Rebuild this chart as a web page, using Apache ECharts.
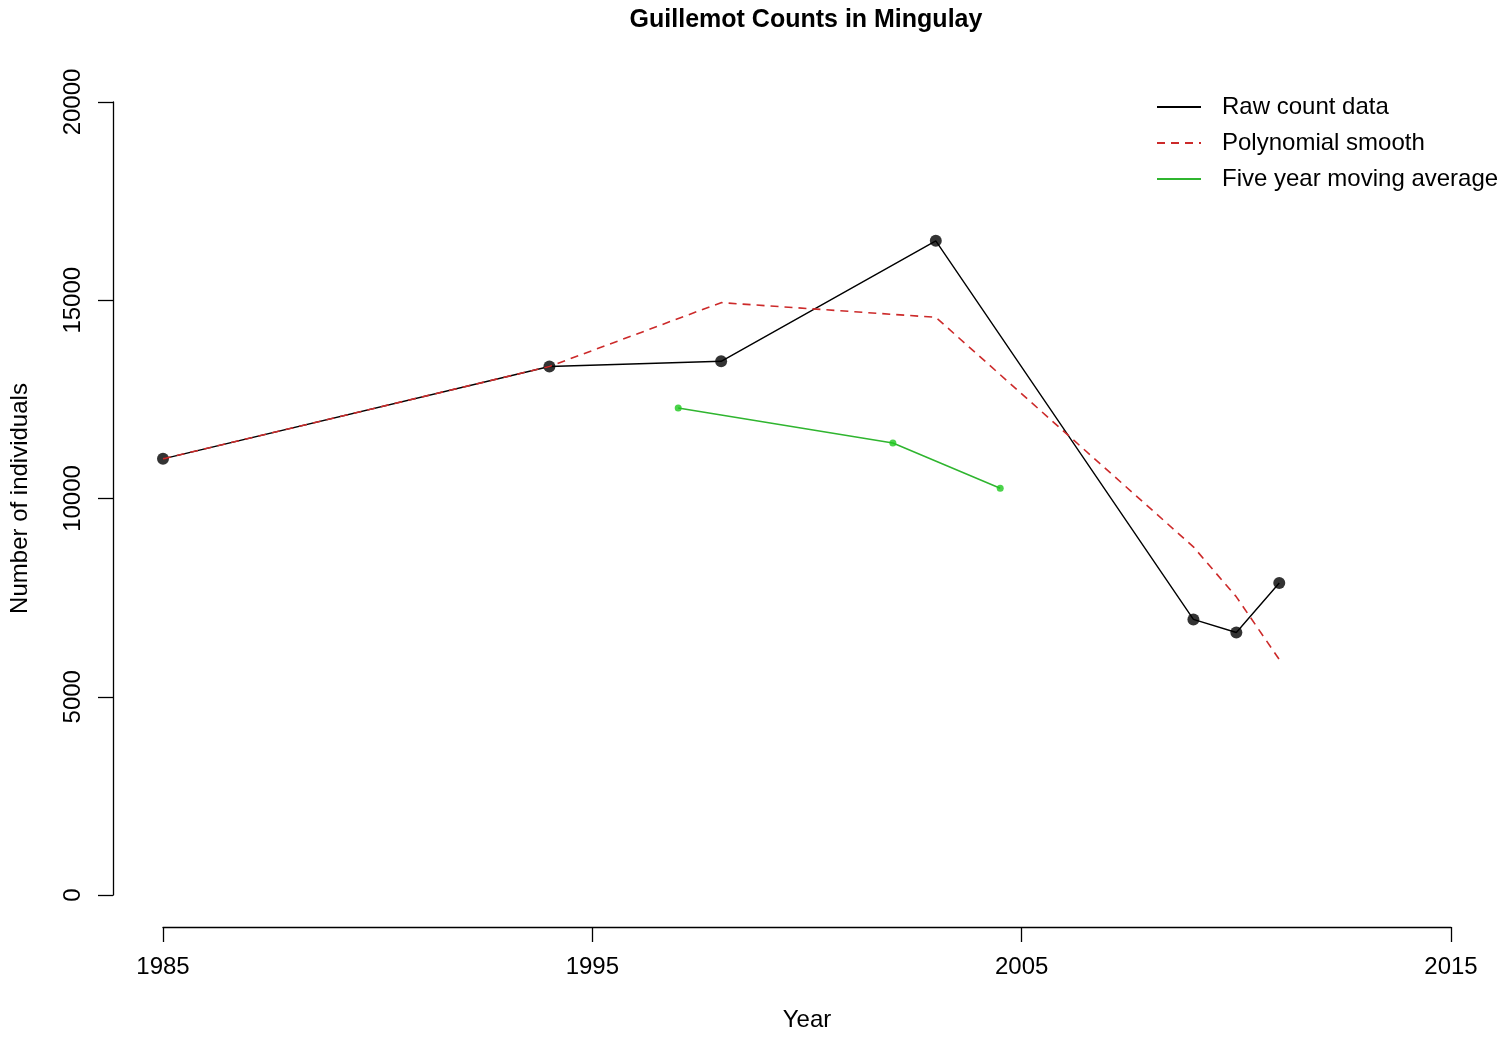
<!DOCTYPE html>
<html>
<head>
<meta charset="utf-8">
<script src="https://cdn.jsdelivr.net/npm/echarts@6/dist/echarts.min.js"></script>
<style>
html,body{margin:0;padding:0;background:#fff;}
#chart{width:1499px;height:1037px;}
</style>
</head>
<body>
<div id="chart"></div>
<script>
// ---- data ----
const years = [1985, 1994, 1998, 2003, 2009, 2010, 2011];
const rawCounts = [11000, 13330, 13460, 16500, 6950, 6620, 7870];
const smoothValues = [11000, 13330, 14940, 14570, 8780, 7520, 5940];
const maYears = [1997, 2002, 2004.5];
const maValues = [12280, 11400, 10260];
const xTicks = [1985, 1995, 2005, 2015];
const yTicks = [0, 5000, 10000, 15000, 20000];

const pair = (xs, ys) => xs.map((x, i) => [x, ys[i]]);
const FONT = 'Liberation Sans, Arial, sans-serif';

const chart = echarts.init(document.getElementById('chart'), null, {renderer: 'canvas'});
chart.setOption({
  animation: false,
  backgroundColor: '#ffffff',
  title: {
    text: 'Guillemot Counts in Mingulay',
    left: 801,
    top: 3,
    textAlign: 'center',
    textStyle: {fontFamily: FONT, fontSize: 25, fontWeight: 'bold', color: '#000'}
  },
  legend: {
    orient: 'vertical',
    left: 1151,
    top: 90,
    itemWidth: 44,
    itemHeight: 14,
    itemGap: 12,
    data: ['Raw count data', 'Polynomial smooth', 'Five year moving average'],
    itemStyle: {opacity: 0, color: 'rgba(0,0,0,0)', borderWidth: 0},
    textStyle: {fontFamily: FONT, fontSize: 24, color: '#000', padding: [0, 0, 0, 16]}
  },
  grid: {left: 163, right: 48, top: 102, bottom: 139, containLabel: false},
  xAxis: {
    type: 'value',
    min: xTicks[0],
    max: xTicks[xTicks.length - 1],
    interval: 10,
    offset: 32,
    name: 'Year',
    nameLocation: 'middle',
    nameGap: 81,
    nameTextStyle: {fontFamily: FONT, fontSize: 24, color: '#000'},
    axisLine: {show: true, onZero: false, lineStyle: {color: '#000', width: 1.3}},
    axisTick: {show: true, length: 15, lineStyle: {color: '#000', width: 1.3}},
    axisLabel: {fontFamily: FONT, fontSize: 24, color: '#000', margin: 28,
      formatter: v => xTicks.includes(v) ? String(v) : ''},
    splitLine: {show: false}
  },
  yAxis: {
    type: 'value',
    min: yTicks[0],
    max: yTicks[yTicks.length - 1],
    interval: 5000,
    offset: 50,
    name: 'Number of individuals',
    nameLocation: 'middle',
    nameGap: 81,
    nameTextStyle: {fontFamily: FONT, fontSize: 24, color: '#000'},
    axisLine: {show: true, onZero: false, lineStyle: {color: '#000', width: 1.3}},
    axisTick: {show: true, length: 15, lineStyle: {color: '#000', width: 1.3}},
    axisLabel: {fontFamily: FONT, fontSize: 24, color: '#000', margin: 28, rotate: 90,
      formatter: v => yTicks.includes(v) ? String(v) : ''},
    splitLine: {show: false}
  },
  series: [
    {
      name: 'Raw count data',
      type: 'line',
      data: pair(years, rawCounts),
      symbol: 'none',
      lineStyle: {color: '#000', width: 1.4},
      itemStyle: {color: '#000'},
      z: 2
    },
    {
      name: 'raw points',
      type: 'scatter',
      data: pair(years, rawCounts),
      symbol: 'circle',
      symbolSize: 12,
      itemStyle: {color: '#000'},
      z: 3
    },
    {
      name: 'Polynomial smooth',
      type: 'line',
      data: pair(years, smoothValues),
      symbol: 'none',
      lineStyle: {color: '#cc2a2a', width: 1.6, type: [8, 6]},
      itemStyle: {color: '#cc2a2a'},
      z: 4
    },
    {
      name: 'Five year moving average',
      type: 'line',
      data: pair(maYears, maValues),
      symbol: 'none',
      lineStyle: {color: '#2fb52f', width: 1.5},
      itemStyle: {color: '#2fb52f'},
      z: 5
    },
    {
      name: 'ma points',
      type: 'scatter',
      data: pair(maYears, maValues),
      symbol: 'circle',
      symbolSize: 7,
      itemStyle: {color: '#1ec81e'},
      z: 6
    }
  ]
});
</script>
</body>
</html>
